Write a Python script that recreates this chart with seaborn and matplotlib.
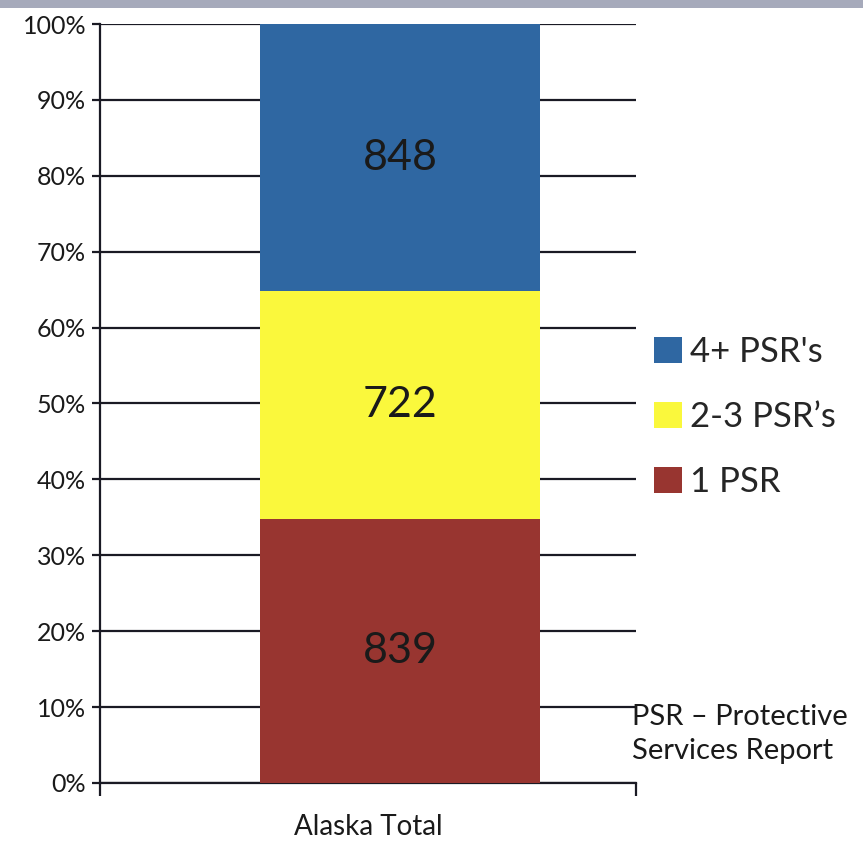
import numpy as np
import pandas as pd
import matplotlib
matplotlib.use("Agg")
import matplotlib.pyplot as plt
from matplotlib.patches import Rectangle, Patch
from matplotlib.ticker import PercentFormatter, MultipleLocator
import seaborn as sns

# ---- data ----
categories = ["Alaska Total"]
series_names = ["1 PSR", "2-3 PSR\u2019s", "4+ PSR's"]
series_counts = [839, 722, 848]
series_colors = ["#983530", "#FAF83C", "#2F67A2"]
y_ticks = [0, 10, 20, 30, 40, 50, 60, 70, 80, 90, 100]
note = "PSR \u2013 Protective\nServices Report"

sns.set_theme(style="white")
plt.rcParams["font.family"] = ["Lato", "DejaVu Sans"]

fig = plt.figure(figsize=(8.63, 8.42), dpi=100)
ax = fig.add_axes([100 / 863, 1 - 783 / 842, 536 / 863, 759 / 842])

total = sum(series_counts)
fractions = [c / total for c in series_counts]
bottom = 0.0
for name, frac, cnt, col in zip(series_names, fractions, series_counts, series_colors):
    sns.barplot(x=categories, y=[frac], color=col, width=0.522, bottom=bottom,
                ax=ax, saturation=1, linewidth=0, zorder=3)
    cont = ax.containers[-1]
    ax.bar_label(cont, labels=[str(cnt)], label_type="center",
                 fontsize=31, color="#1a1a1a")
    bottom += frac

xlo, xhi = -0.5597, 0.4403
ax.set_xlim(xlo, xhi)
ax.set_ylim(0, 1.0)

# y axis
ax.yaxis.set_major_locator(MultipleLocator(0.1))
ax.yaxis.set_major_formatter(PercentFormatter(1.0, decimals=0))
ax.grid(axis="y", color="#1a1a24", linewidth=1.6, zorder=1)
ax.grid(axis="x", visible=False)
ax.tick_params(axis="y", which="major", direction="out", length=6, width=1.6,
               color="#1a1a24", labelsize=18, labelcolor="#1a1a1a", pad=4, left=True)

# x axis: category label centred in axis, boundary ticks at the edges
ax.set_xticks([(xlo + xhi) / 2])
ax.set_xticklabels(categories)
ax.tick_params(axis="x", which="major", length=0, labelsize=20, labelcolor="#1a1a1a", pad=22)
ax.set_xticks([xlo, xhi], minor=True)
ax.tick_params(axis="x", which="minor", direction="out", length=9, width=1.6,
               color="#1a1a24", bottom=True)
ax.set_xlabel("")
ax.set_ylabel("")

for s in ["top", "right"]:
    ax.spines[s].set_visible(False)
for s in ["left", "bottom"]:
    ax.spines[s].set_color("#1a1a24")
    ax.spines[s].set_linewidth(1.6)
    ax.spines[s].set_visible(True)

# legend
handles = [Patch(facecolor=c, edgecolor="none") for c in series_colors][::-1]
labels = series_names[::-1]
fig.legend(handles, labels, loc="upper left", bbox_to_anchor=(654 / 863, 1 - 336 / 842),
           frameon=False, fontsize=25, handlelength=0.8, handleheight=0.8,
           handletextpad=0.25, labelspacing=0.95, borderpad=0, borderaxespad=0)

# note
fig.text(632 / 863, 1 - 704 / 842, note, fontsize=21, color="#1a1a1a",
         va="top", ha="left", linespacing=1.4)

# scanned frame edge at top
fig.patches.append(Rectangle((0, 1 - 8 / 842), 1, 8 / 842, transform=fig.transFigure,
                             facecolor="#a6aabb", edgecolor="none", zorder=0))

fig.savefig("out.png", dpi=100, facecolor="white")
